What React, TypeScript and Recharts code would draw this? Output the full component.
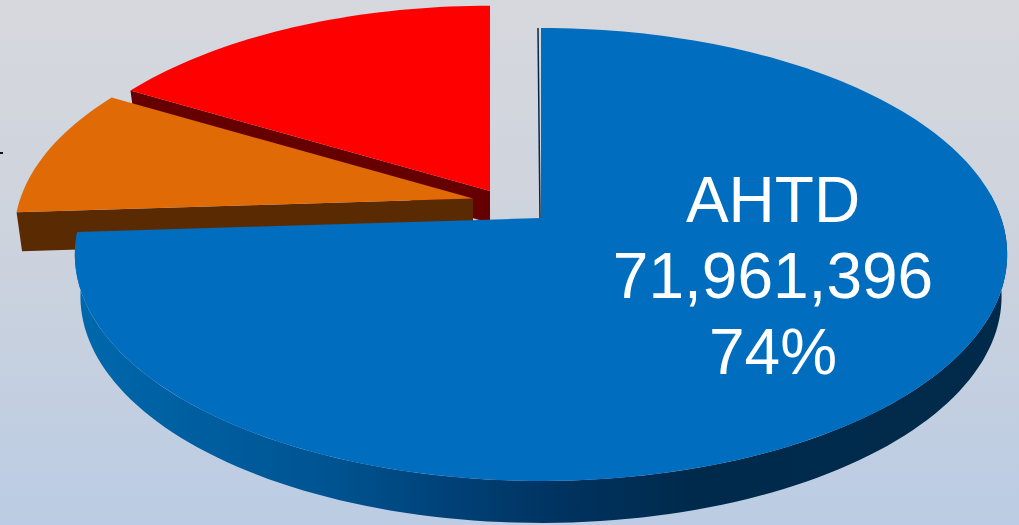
import React from "react";
import { PieChart, Pie } from "recharts";

const sliceNames = ["Other", "Federal", "AHTD"];
const sliceValues = [16120000, 9164000, 71961396];
const labelledSlice = "AHTD";

const topColors = ["#ff0000", "#e06a06", "#006dbf"];
const wallColors = ["#660000", "#5a2a02", "url(#blueWall)"];
const explode = [
  { dx: -50, dy: -27, scale: 0.975, sx: 1, depth: 32 },
  { dx: -67, dy: -19.5, scale: 0.98, sx: 1, depth: 39 },
  { dx: 1, dy: 0, scale: 1, sx: 0.996, depth: 42 },
];

const tableData = sliceNames.map((name, i) => ({ name, value: sliceValues[i], slot: i }));

const PERSPECTIVE = 0.161;
const STRETCH = 2.094;
const WALL_NARROW = 0.988;

type Pt = [number, number];

function makeProjector(cx: number, cy: number, r: number, e: (typeof explode)[number]) {
  return (deg: number, radius = 1): Pt => {
    const a = (deg * Math.PI) / 180;
    const u = radius * Math.cos(a);
    const v = radius * Math.sin(a);
    const w = 1 + PERSPECTIVE * v;
    return [cx + e.dx + (e.sx * e.scale * STRETCH * r * u) / w, cy + e.dy - (e.scale * r * v) / w];
  };
}

const toPath = (pts: Pt[]) =>
  "M" + pts.map((p) => `${p[0].toFixed(2)},${p[1].toFixed(2)}`).join("L") + "Z";

function arcPoints(project: (d: number, r?: number) => Pt, from: number, to: number): Pt[] {
  const n = Math.max(8, Math.ceil(Math.abs(to - from) / 1.5));
  const out: Pt[] = [];
  for (let i = 0; i <= n; i++) out.push(project(from + ((to - from) * i) / n));
  return out;
}

function PerspectiveSlice(props: any) {
  const { cx, cy, outerRadius, startAngle, endAngle } = props;
  const slot: number = props.slot ?? props.payload?.slot ?? 0;
  const e = explode[slot];
  const project = makeProjector(cx, cy, outerRadius, e);
  const drop = (p: Pt): Pt => [
    cx + e.dx + (p[0] - cx - e.dx) * WALL_NARROW,
    p[1] + e.depth,
  ];
  const apex = project(0, 0);
  const rim = arcPoints(project, startAngle, endAngle);
  const isMain = slot === sliceNames.length - 1;

  let wall: Pt[];
  if (isMain) {
    const outer = arcPoints(project, startAngle, 366);
    wall = [...outer, ...outer.slice().reverse().map(drop)];
  } else {
    const corner = project(endAngle);
    wall = [apex, corner, drop(corner), drop(apex)];
  }

  return (
    <g>
      {isMain && (
        <defs>
          <linearGradient id="blueWall" gradientUnits="userSpaceOnUse" x1="72" y1="0" x2="1008" y2="0">
            <stop offset="0" stopColor="#0068ad" />
            <stop offset="0.28" stopColor="#005391" />
            <stop offset="0.42" stopColor="#003f74" />
            <stop offset="0.52" stopColor="#003360" />
            <stop offset="0.66" stopColor="#002a4c" />
            <stop offset="1" stopColor="#012a4a" />
          </linearGradient>
        </defs>
      )}
      <path d={toPath(wall)} fill={wallColors[slot]} stroke="none" />
      {isMain && (
        <line
          x1={apex[0] - 1}
          y1={apex[1]}
          x2={project(90)[0] - 3}
          y2={project(90)[1]}
          stroke="#012a4a"
          strokeWidth={1.5}
        />
      )}
      <path d={toPath([apex, ...rim])} fill={topColors[slot]} stroke="none" />
    </g>
  );
}

function SliceLabel(props: any) {
  const { name, value, percent } = props;
  if (name !== labelledSlice) return null;
  const x = 773;
  const style = { fontFamily: "'Liberation Sans', Arial, sans-serif", fontSize: 64, fill: "#ffffff" };
  return (
    <text textAnchor="middle" style={style}>
      <tspan x={x} y={222}>{name}</tspan>
      <tspan x={x} y={298}>{Number(value).toLocaleString("en-US")}</tspan>
      <tspan x={x} y={374}>{`${Math.round(percent * 100)}%`}</tspan>
    </text>
  );
}

export default function App() {
  return (
    <div
      style={{
        position: "absolute",
        left: 0,
        top: 0,
        width: 1019,
        height: 525,
        overflow: "hidden",
        background: "linear-gradient(180deg, #d6d8dd 0%, #cdd3dd 45%, #bbcce4 100%)",
      }}
    >
      <div style={{ position: "absolute", left: 0, top: 152, width: 3, height: 2, background: "#111" }} />
      <div style={{ filter: "blur(0.45px)", width: 1019, height: 525 }}>
        <PieChart width={1019} height={525} margin={{ top: 0, right: 0, bottom: 0, left: 0 }}>
          <Pie
            data={tableData}
            dataKey="value"
            nameKey="name"
            cx={540}
            cy={218}
            innerRadius={0}
            outerRadius={220.6}
            startAngle={90}
            endAngle={450}
            paddingAngle={0}
            stroke="none"
            isAnimationActive={false}
            shape={PerspectiveSlice}
            label={SliceLabel}
            labelLine={false}
          />
        </PieChart>
      </div>
    </div>
  );
}
